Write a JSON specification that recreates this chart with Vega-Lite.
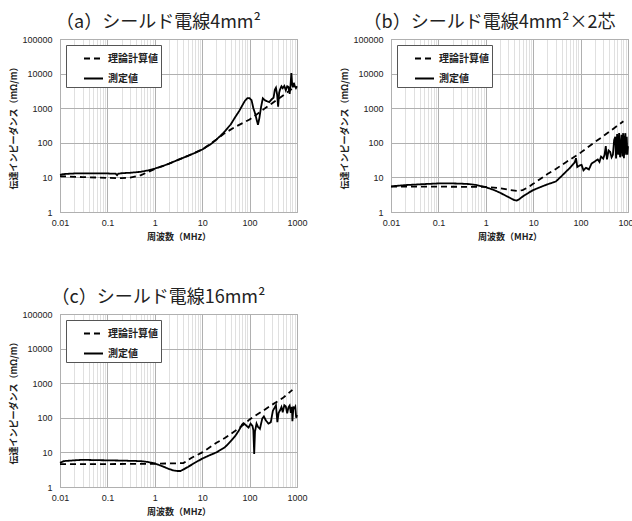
{
  "$schema": "https://vega.github.io/schema/vega-lite/v6.json",
  "padding": {"left": 9, "top": 13, "right": 5, "bottom": 5},
  "background": "white",
  "datasets": {
    "a": [
      {"s": "測定値", "f": 0.01, "z": 11.8}, {"s": "測定値", "f": 0.012, "z": 12.5}, {"s": "測定値", "f": 0.02, "z": 13}, {"s": "測定値", "f": 0.05, "z": 13}, {"s": "測定値", "f": 0.1, "z": 13}, {"s": "測定値", "f": 0.15, "z": 12.8}, {"s": "測定値", "f": 0.16, "z": 11.6}, {"s": "測定値", "f": 0.17, "z": 12.8}, {"s": "測定値", "f": 0.2, "z": 13.2}, {"s": "測定値", "f": 0.3, "z": 13.6}, {"s": "測定値", "f": 0.5, "z": 14.5}, {"s": "測定値", "f": 0.7, "z": 15.8}, {"s": "測定値", "f": 1, "z": 18}, {"s": "測定値", "f": 1.5, "z": 21.5}, {"s": "測定値", "f": 2, "z": 25}, {"s": "測定値", "f": 3, "z": 31.5}, {"s": "測定値", "f": 5, "z": 42}, {"s": "測定値", "f": 7, "z": 51}, {"s": "測定値", "f": 10, "z": 64}, {"s": "測定値", "f": 15, "z": 90}, {"s": "測定値", "f": 20, "z": 125}, {"s": "測定値", "f": 25, "z": 165}, {"s": "測定値", "f": 30, "z": 215}, {"s": "測定値", "f": 40, "z": 340}, {"s": "測定値", "f": 50, "z": 560}, {"s": "測定値", "f": 60, "z": 820}, {"s": "測定値", "f": 70, "z": 1200}, {"s": "測定値", "f": 80, "z": 1650}, {"s": "測定値", "f": 90, "z": 1950}, {"s": "測定値", "f": 100, "z": 1950}, {"s": "測定値", "f": 110, "z": 1700}, {"s": "測定値", "f": 120, "z": 1000}, {"s": "測定値", "f": 130, "z": 720}, {"s": "測定値", "f": 150, "z": 330}, {"s": "測定値", "f": 160, "z": 500}, {"s": "測定値", "f": 175, "z": 1100}, {"s": "測定値", "f": 190, "z": 1930}, {"s": "測定値", "f": 210, "z": 1700}, {"s": "測定値", "f": 230, "z": 1600}, {"s": "測定値", "f": 260, "z": 1500}, {"s": "測定値", "f": 290, "z": 1800}, {"s": "測定値", "f": 320, "z": 2000}, {"s": "測定値", "f": 340, "z": 3400}, {"s": "測定値", "f": 360, "z": 3900}, {"s": "測定値", "f": 380, "z": 2500}, {"s": "測定値", "f": 400, "z": 1100}, {"s": "測定値", "f": 420, "z": 2800}, {"s": "測定値", "f": 440, "z": 3500}, {"s": "測定値", "f": 470, "z": 4300}, {"s": "測定値", "f": 500, "z": 3800}, {"s": "測定値", "f": 540, "z": 4400}, {"s": "測定値", "f": 580, "z": 3300}, {"s": "測定値", "f": 620, "z": 4300}, {"s": "測定値", "f": 660, "z": 4100}, {"s": "測定値", "f": 700, "z": 2600}, {"s": "測定値", "f": 730, "z": 4500}, {"s": "測定値", "f": 760, "z": 10400}, {"s": "測定値", "f": 790, "z": 5000}, {"s": "測定値", "f": 820, "z": 4000}, {"s": "測定値", "f": 860, "z": 5400}, {"s": "測定値", "f": 900, "z": 4300}, {"s": "測定値", "f": 950, "z": 3800}, {"s": "測定値", "f": 1000, "z": 4300},
      {"s": "理論計算値", "f": 0.01, "z": 10.8}, {"s": "理論計算値", "f": 0.03, "z": 10.2}, {"s": "理論計算値", "f": 0.1, "z": 9.7}, {"s": "理論計算値", "f": 0.2, "z": 9.5}, {"s": "理論計算値", "f": 0.3, "z": 9.9}, {"s": "理論計算値", "f": 0.5, "z": 11.5}, {"s": "理論計算値", "f": 0.7, "z": 14}, {"s": "理論計算値", "f": 1, "z": 17.5}, {"s": "理論計算値", "f": 2, "z": 25}, {"s": "理論計算値", "f": 5, "z": 42}, {"s": "理論計算値", "f": 10, "z": 64}, {"s": "理論計算値", "f": 20, "z": 125}, {"s": "理論計算値", "f": 30, "z": 190}, {"s": "理論計算値", "f": 50, "z": 290}, {"s": "理論計算値", "f": 100, "z": 470}, {"s": "理論計算値", "f": 200, "z": 940}, {"s": "理論計算値", "f": 300, "z": 1400}, {"s": "理論計算値", "f": 500, "z": 2300}, {"s": "理論計算値", "f": 800, "z": 3700}
    ],
    "b": [
      {"s": "測定値", "f": 0.01, "z": 5.5}, {"s": "測定値", "f": 0.02, "z": 6.0}, {"s": "測定値", "f": 0.05, "z": 6.4}, {"s": "測定値", "f": 0.1, "z": 6.7}, {"s": "測定値", "f": 0.2, "z": 6.7}, {"s": "測定値", "f": 0.4, "z": 6.5}, {"s": "測定値", "f": 0.6, "z": 6.1}, {"s": "測定値", "f": 0.8, "z": 5.6}, {"s": "測定値", "f": 1, "z": 5.2}, {"s": "測定値", "f": 1.5, "z": 4.3}, {"s": "測定値", "f": 2, "z": 3.6}, {"s": "測定値", "f": 3, "z": 2.7}, {"s": "測定値", "f": 4, "z": 2.2}, {"s": "測定値", "f": 4.5, "z": 2.15}, {"s": "測定値", "f": 5, "z": 2.3}, {"s": "測定値", "f": 6, "z": 2.8}, {"s": "測定値", "f": 8, "z": 3.6}, {"s": "測定値", "f": 10, "z": 4.3}, {"s": "測定値", "f": 15, "z": 5.4}, {"s": "測定値", "f": 20, "z": 6.3}, {"s": "測定値", "f": 30, "z": 7.6}, {"s": "測定値", "f": 40, "z": 11}, {"s": "測定値", "f": 50, "z": 15}, {"s": "測定値", "f": 60, "z": 19}, {"s": "測定値", "f": 75, "z": 27}, {"s": "測定値", "f": 80, "z": 36}, {"s": "測定値", "f": 85, "z": 20}, {"s": "測定値", "f": 95, "z": 22}, {"s": "測定値", "f": 105, "z": 23}, {"s": "測定値", "f": 115, "z": 16}, {"s": "測定値", "f": 130, "z": 19}, {"s": "測定値", "f": 150, "z": 17}, {"s": "測定値", "f": 170, "z": 25}, {"s": "測定値", "f": 200, "z": 29}, {"s": "測定値", "f": 230, "z": 33}, {"s": "測定値", "f": 250, "z": 28}, {"s": "測定値", "f": 270, "z": 40}, {"s": "測定値", "f": 300, "z": 35}, {"s": "測定値", "f": 320, "z": 45}, {"s": "測定値", "f": 340, "z": 80}, {"s": "測定値", "f": 360, "z": 33}, {"s": "測定値", "f": 390, "z": 60}, {"s": "測定値", "f": 420, "z": 55}, {"s": "測定値", "f": 450, "z": 38}, {"s": "測定値", "f": 480, "z": 45}, {"s": "測定値", "f": 510, "z": 120}, {"s": "測定値", "f": 540, "z": 150}, {"s": "測定値", "f": 560, "z": 35}, {"s": "測定値", "f": 590, "z": 180}, {"s": "測定値", "f": 620, "z": 45}, {"s": "測定値", "f": 650, "z": 190}, {"s": "測定値", "f": 680, "z": 38}, {"s": "測定値", "f": 700, "z": 70}, {"s": "測定値", "f": 730, "z": 170}, {"s": "測定値", "f": 760, "z": 40}, {"s": "測定値", "f": 790, "z": 190}, {"s": "測定値", "f": 820, "z": 36}, {"s": "測定値", "f": 850, "z": 110}, {"s": "測定値", "f": 880, "z": 190}, {"s": "測定値", "f": 910, "z": 45}, {"s": "測定値", "f": 940, "z": 150}, {"s": "測定値", "f": 970, "z": 45}, {"s": "測定値", "f": 1000, "z": 80},
      {"s": "理論計算値", "f": 0.01, "z": 5.4}, {"s": "理論計算値", "f": 0.1, "z": 5.4}, {"s": "理論計算値", "f": 1, "z": 5.3}, {"s": "理論計算値", "f": 2, "z": 4.9}, {"s": "理論計算値", "f": 3, "z": 4.4}, {"s": "理論計算値", "f": 4.5, "z": 4.1}, {"s": "理論計算値", "f": 6, "z": 4.3}, {"s": "理論計算値", "f": 8, "z": 5.3}, {"s": "理論計算値", "f": 10, "z": 6.5}, {"s": "理論計算値", "f": 20, "z": 12.5}, {"s": "理論計算値", "f": 30, "z": 17.5}, {"s": "理論計算値", "f": 50, "z": 28}, {"s": "理論計算値", "f": 80, "z": 42}, {"s": "理論計算値", "f": 100, "z": 52}, {"s": "理論計算値", "f": 200, "z": 105}, {"s": "理論計算値", "f": 300, "z": 155}, {"s": "理論計算値", "f": 500, "z": 260}, {"s": "理論計算値", "f": 800, "z": 420}
    ],
    "c": [
      {"s": "測定値", "f": 0.01, "z": 5.0}, {"s": "測定値", "f": 0.012, "z": 5.6}, {"s": "測定値", "f": 0.02, "z": 5.9}, {"s": "測定値", "f": 0.03, "z": 6.1}, {"s": "測定値", "f": 0.05, "z": 6.0}, {"s": "測定値", "f": 0.1, "z": 5.9}, {"s": "測定値", "f": 0.2, "z": 5.8}, {"s": "測定値", "f": 0.5, "z": 5.6}, {"s": "測定値", "f": 0.7, "z": 5.3}, {"s": "測定値", "f": 1, "z": 4.8}, {"s": "測定値", "f": 1.5, "z": 3.9}, {"s": "測定値", "f": 2, "z": 3.3}, {"s": "測定値", "f": 2.5, "z": 3.0}, {"s": "測定値", "f": 3, "z": 2.9}, {"s": "測定値", "f": 3.5, "z": 2.9}, {"s": "測定値", "f": 4, "z": 3.2}, {"s": "測定値", "f": 5, "z": 3.8}, {"s": "測定値", "f": 7, "z": 5.0}, {"s": "測定値", "f": 10, "z": 6.6}, {"s": "測定値", "f": 15, "z": 8.5}, {"s": "測定値", "f": 20, "z": 10}, {"s": "測定値", "f": 30, "z": 14}, {"s": "測定値", "f": 40, "z": 21}, {"s": "測定値", "f": 50, "z": 30}, {"s": "測定値", "f": 60, "z": 44}, {"s": "測定値", "f": 70, "z": 65}, {"s": "測定値", "f": 75, "z": 70}, {"s": "測定値", "f": 85, "z": 60}, {"s": "測定値", "f": 95, "z": 52}, {"s": "測定値", "f": 105, "z": 68}, {"s": "測定値", "f": 115, "z": 58}, {"s": "測定値", "f": 120, "z": 44}, {"s": "測定値", "f": 125, "z": 9}, {"s": "測定値", "f": 130, "z": 40}, {"s": "測定値", "f": 140, "z": 68}, {"s": "測定値", "f": 150, "z": 55}, {"s": "測定値", "f": 165, "z": 48}, {"s": "測定値", "f": 185, "z": 95}, {"s": "測定値", "f": 200, "z": 110}, {"s": "測定値", "f": 220, "z": 84}, {"s": "測定値", "f": 250, "z": 68}, {"s": "測定値", "f": 280, "z": 75}, {"s": "測定値", "f": 310, "z": 160}, {"s": "測定値", "f": 340, "z": 200}, {"s": "測定値", "f": 360, "z": 230}, {"s": "測定値", "f": 385, "z": 75}, {"s": "測定値", "f": 410, "z": 140}, {"s": "測定値", "f": 440, "z": 165}, {"s": "測定値", "f": 470, "z": 205}, {"s": "測定値", "f": 500, "z": 145}, {"s": "測定値", "f": 540, "z": 230}, {"s": "測定値", "f": 580, "z": 215}, {"s": "測定値", "f": 620, "z": 135}, {"s": "測定値", "f": 660, "z": 200}, {"s": "測定値", "f": 700, "z": 225}, {"s": "測定値", "f": 740, "z": 140}, {"s": "測定値", "f": 780, "z": 205}, {"s": "測定値", "f": 800, "z": 80}, {"s": "測定値", "f": 840, "z": 200}, {"s": "測定値", "f": 880, "z": 190}, {"s": "測定値", "f": 920, "z": 210}, {"s": "測定値", "f": 960, "z": 100}, {"s": "測定値", "f": 1000, "z": 120},
      {"s": "理論計算値", "f": 0.01, "z": 4.6}, {"s": "理論計算値", "f": 0.1, "z": 4.6}, {"s": "理論計算値", "f": 1, "z": 4.7}, {"s": "理論計算値", "f": 2, "z": 4.8}, {"s": "理論計算値", "f": 4, "z": 4.9}, {"s": "理論計算値", "f": 6, "z": 7}, {"s": "理論計算値", "f": 10, "z": 10}, {"s": "理論計算値", "f": 20, "z": 19}, {"s": "理論計算値", "f": 30, "z": 26}, {"s": "理論計算値", "f": 50, "z": 42}, {"s": "理論計算値", "f": 80, "z": 68}, {"s": "理論計算値", "f": 100, "z": 90}, {"s": "理論計算値", "f": 200, "z": 165}, {"s": "理論計算値", "f": 300, "z": 240}, {"s": "理論計算値", "f": 500, "z": 370}, {"s": "理論計算値", "f": 800, "z": 640}
    ]
  },
  "config": {
    "font": "Noto Sans CJK JP",
    "view": {"stroke": "#a0a0a0", "strokeWidth": 1},
    "axis": {"domain": false, "ticks": false, "labelFont": "Liberation Sans", "labelFontSize": 9, "labelColor": "#222", "titleFont": "Noto Sans CJK JP", "titleFontSize": 9, "titleFontWeight": "bold", "titleColor": "#222", "gridWidth": 1, "labelOverlap": false, "labelFlush": false},
    "title": {"fontSize": 18, "font": "Noto Sans CJK JP", "fontWeight": "normal", "color": "#222", "anchor": "middle", "frame": "bounds", "offset": 3},
    "legend": {"orient": "top-left", "offset": 6, "title": null, "symbolType": "stroke", "symbolSize": 361, "symbolStrokeWidth": 1.8, "symbolStrokeColor": "black", "labelFontSize": 10, "labelFont": "Noto Sans CJK JP", "labelFontWeight": "bold", "labelColor": "#222", "strokeColor": "#555", "fillColor": "white", "padding": 3, "symbolOffset": 14, "labelOffset": 4, "rowPadding": 4, "labelExpr": "datum.label + '⠀⠀⠀⠀'"}
  },
  "resolve": {"scale": {"strokeDash": "independent"}, "legend": {"strokeDash": "independent"}},
  "spacing": 46,
  "vconcat": [
    {
      "resolve": {"scale": {"strokeDash": "independent"}, "legend": {"strokeDash": "independent"}},
      "spacing": 32,
      "hconcat": [
        {
          "width": 237, "height": 173,
          "title": "（a）シールド電線4mm²",
          "data": {"name": "a"},
          "mark": {"type": "line", "strokeWidth": 1.8, "color": "black"},
          "encoding": {
            "x": {"field": "f", "type": "quantitative", "title": "周波数（MHz）", "scale": {"type": "log", "domain": [0.01, 1000]},
              "axis": {"values": [0.01,0.02,0.03,0.04,0.05,0.06,0.07,0.08,0.09,0.1,0.2,0.3,0.4,0.5,0.6,0.7,0.8,0.9,1,2,3,4,5,6,7,8,9,10,20,30,40,50,60,70,80,90,100,200,300,400,500,600,700,800,900,1000], "format": "~g", "labelPadding": 6, "titlePadding": 5,
                "labelExpr": "abs(log(datum.value)/LN10 - round(log(datum.value)/LN10)) < 0.001 ? datum.label : ''",
                "gridColor": {"condition": {"test": "abs(log(datum.value)/LN10 - round(log(datum.value)/LN10)) < 0.001", "value": "#b0b0b0"}, "value": "#e0e0e0"}}},
            "y": {"field": "z", "type": "quantitative", "title": "伝達インピーダンス（mΩ/m）", "scale": {"type": "log", "domain": [1, 100000]},
              "axis": {"values": [1,10,100,1000,10000,100000], "format": "~g", "gridColor": "#b0b0b0", "labelPadding": 8, "titlePadding": 3}},
            "strokeDash": {"field": "s", "type": "nominal", "scale": {"domain": ["理論計算値", "測定値"], "range": [[6, 4], [1, 0]]}}
          }
        },
        {
          "width": 237, "height": 173,
          "title": "（b）シールド電線4mm²×2芯",
          "data": {"name": "b"},
          "mark": {"type": "line", "strokeWidth": 1.8, "color": "black"},
          "encoding": {
            "x": {"field": "f", "type": "quantitative", "title": "周波数（MHz）", "scale": {"type": "log", "domain": [0.01, 1000]},
              "axis": {"values": [0.01,0.02,0.03,0.04,0.05,0.06,0.07,0.08,0.09,0.1,0.2,0.3,0.4,0.5,0.6,0.7,0.8,0.9,1,2,3,4,5,6,7,8,9,10,20,30,40,50,60,70,80,90,100,200,300,400,500,600,700,800,900,1000], "format": "~g", "labelPadding": 6, "titlePadding": 5,
                "labelExpr": "abs(log(datum.value)/LN10 - round(log(datum.value)/LN10)) < 0.001 ? datum.label : ''",
                "gridColor": {"condition": {"test": "abs(log(datum.value)/LN10 - round(log(datum.value)/LN10)) < 0.001", "value": "#b0b0b0"}, "value": "#e0e0e0"}}},
            "y": {"field": "z", "type": "quantitative", "title": "伝達インピーダンス（mΩ/m）", "scale": {"type": "log", "domain": [1, 100000]},
              "axis": {"values": [1,10,100,1000,10000,100000], "format": "~g", "gridColor": "#b0b0b0", "labelPadding": 8, "titlePadding": 3}},
            "strokeDash": {"field": "s", "type": "nominal", "scale": {"domain": ["理論計算値", "測定値"], "range": [[6, 4], [1, 0]]}}
          }
        }
      ]
    },
    {
      "width": 237, "height": 173,
      "title": "（c）シールド電線16mm²",
      "data": {"name": "c"},
      "mark": {"type": "line", "strokeWidth": 1.8, "color": "black"},
      "encoding": {
        "x": {"field": "f", "type": "quantitative", "title": "周波数（MHz）", "scale": {"type": "log", "domain": [0.01, 1000]},
          "axis": {"values": [0.01,0.02,0.03,0.04,0.05,0.06,0.07,0.08,0.09,0.1,0.2,0.3,0.4,0.5,0.6,0.7,0.8,0.9,1,2,3,4,5,6,7,8,9,10,20,30,40,50,60,70,80,90,100,200,300,400,500,600,700,800,900,1000], "format": "~g", "labelPadding": 6, "titlePadding": 5,
            "labelExpr": "abs(log(datum.value)/LN10 - round(log(datum.value)/LN10)) < 0.001 ? datum.label : ''",
            "gridColor": {"condition": {"test": "abs(log(datum.value)/LN10 - round(log(datum.value)/LN10)) < 0.001", "value": "#b0b0b0"}, "value": "#e0e0e0"}}},
        "y": {"field": "z", "type": "quantitative", "title": "伝達インピーダンス（mΩ/m）", "scale": {"type": "log", "domain": [1, 100000]},
          "axis": {"values": [1,10,100,1000,10000,100000], "format": "~g", "gridColor": "#b0b0b0", "labelPadding": 8, "titlePadding": 3}},
        "strokeDash": {"field": "s", "type": "nominal", "scale": {"domain": ["理論計算値", "測定値"], "range": [[6, 4], [1, 0]]}}
      }
    }
  ]
}
